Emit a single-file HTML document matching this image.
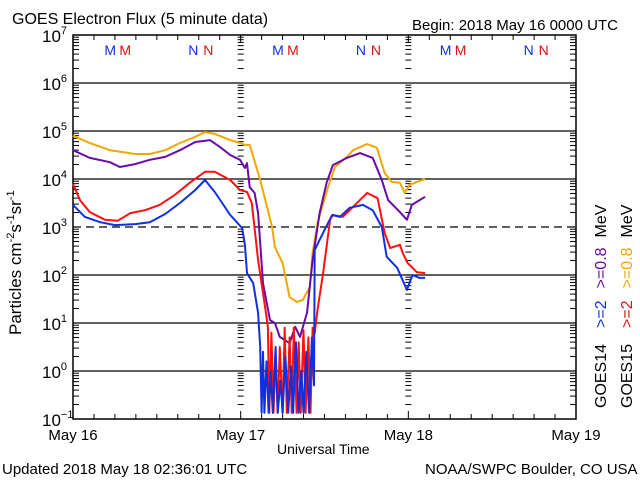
<!DOCTYPE html>
<html><head><meta charset="utf-8"><style>
body{margin:0;background:#fff;width:640px;height:480px;overflow:hidden}
svg{font-family:"Liberation Sans",sans-serif}
</style></head><body>
<svg id="chart" width="640" height="480">
<text x="12" y="24" font-size="16">GOES Electron Flux (5 minute data)</text>
<text x="412" y="30" font-size="15">Begin: 2018 May 16 0000 UTC</text>
<text x="2" y="474" font-size="15">Updated 2018 May 18 02:36:01 UTC</text>
<text x="425" y="474" font-size="15">NOAA/SWPC Boulder, CO USA</text>
<text x="277" y="454" font-size="14">Universal Time</text>
<text transform="translate(21,335) rotate(-90)" font-size="17">Particles cm<tspan font-size="11" dy="-7">-2</tspan><tspan dy="7">s</tspan><tspan font-size="11" dy="-7">-1</tspan><tspan dy="7">sr</tspan><tspan font-size="11" dy="-7">-1</tspan></text>
<text transform="translate(606,408) rotate(-90)" font-size="16"><tspan fill="#000">GOES14</tspan><tspan dx="16" fill="#1030e0">&gt;=2</tspan><tspan dx="12" fill="#6a0aa8">&gt;=0.8</tspan><tspan dx="10" fill="#000">MeV</tspan></text>
<text transform="translate(632,408) rotate(-90)" font-size="16"><tspan fill="#000">GOES15</tspan><tspan dx="16" fill="#e01010">&gt;=2</tspan><tspan dx="12" fill="#f0a800">&gt;=0.8</tspan><tspan dx="10" fill="#000">MeV</tspan></text>
<g id="axes"></g>
<g id="series"></g>
</svg>
<script>
const dayLabels = ["May 16","May 17","May 18","May 19"];
const decadeExps = [-1,0,1,2,3,4,5,6,7];
const mnLetters = [["M","M"],["N","N"]];
// GOES14 >=2 MeV (blue): hours since May 16 00UTC, log10 flux
const blueT = [0,1.7,3.9,6.0,8.9,11.0,13.2,15.3,17.5,18.9,20.3,22.5,24.2,24.6,24.9,25.8,26.5,26.8,27.0,27.2,27.4,27.7,28.0,28.3,28.6,29.0,29.3,29.7,30.0,30.4,30.8,31.2,31.5,31.9,32.3,32.7,33.0,33.4,33.8,34.2,34.5,34.6,35.8,37.1,38.2,39.6,41.5,42.9,44.2,44.9,46.4,47.8,48.6,49.6,50.4];
const blueV = [3.46,3.21,3.10,3.04,3.06,3.10,3.27,3.50,3.77,3.98,3.73,3.25,2.98,2.63,2.04,1.83,1.21,0.5,-0.87,0.4,-0.87,0.2,-0.87,0.0,-0.87,0.5,-0.87,-0.2,-0.87,0.3,-0.87,0.1,-0.87,0.6,-0.87,0.0,-0.87,0.4,-0.87,0.7,-0.3,2.52,2.88,3.25,3.21,3.40,3.46,3.35,3.00,2.38,2.15,1.69,2.00,1.94,1.94];
// GOES15 >=2 MeV (red)
const redT = [0,1.0,2.4,4.6,6.4,8.2,10.3,12.4,14.6,16.7,18.9,20.3,22.5,23.9,24.9,25.6,26.5,27.5,27.9,28.1,28.4,28.7,29.0,29.3,29.6,30.0,30.3,30.6,31.0,31.3,31.6,32.0,32.3,32.6,33.0,33.3,33.7,34.0,34.3,34.6,35.0,35.8,36.8,37.2,38.6,40.1,42.1,43.6,44.6,45.4,46.8,47.2,47.9,49.2,50.4];
const redV = [3.90,3.56,3.31,3.15,3.13,3.29,3.35,3.46,3.67,3.92,4.15,4.15,3.98,3.77,3.73,3.50,2.31,1.33,0.92,-0.87,0.8,-0.87,0.3,-0.87,0.5,-0.87,0.9,-0.87,0.7,-0.87,0.9,-0.87,0.6,-0.87,0.85,-0.87,0.7,-0.87,0.9,0.79,1.27,2.04,3.15,3.25,3.21,3.42,3.71,3.60,2.88,2.56,2.63,2.46,2.25,2.06,2.04];
// GOES14 >=0.8 MeV (purple)
const purT = [0,2.4,5.3,6.7,8.9,11.0,13.2,15.3,17.5,19.6,21.0,22.5,23.9,24.6,24.9,25.3,26.0,26.5,27.2,28.2,28.9,29.6,31.0,31.8,32.5,33.5,34.3,35.3,36.3,37.2,39.2,41.1,42.9,44.2,45.1,46.8,47.8,48.5,50.4];
const purV = [4.60,4.44,4.35,4.25,4.31,4.40,4.46,4.60,4.77,4.81,4.67,4.50,4.40,4.23,4.33,3.83,3.71,3.29,1.83,1.06,1.00,0.71,0.58,0.92,0.71,1.21,2.31,3.29,3.92,4.29,4.44,4.54,4.44,3.98,3.56,3.31,3.15,3.46,3.63];
// GOES15 >=0.8 MeV (orange)
const orgT = [0,2.4,5.3,8.9,11.0,13.2,15.3,17.5,18.9,20.3,22.5,23.9,24.6,25.3,26.8,28.5,28.9,30.0,31.0,32.0,32.9,33.9,34.3,35.0,36.5,37.5,39.2,40.1,42.1,43.5,44.6,45.6,46.8,47.5,48.2,49.2,50.4];
const orgV = [4.90,4.75,4.60,4.52,4.52,4.60,4.75,4.88,4.98,4.94,4.81,4.75,4.71,4.71,3.98,3.00,2.58,2.25,1.54,1.44,1.48,1.75,2.46,3.08,3.83,4.25,4.46,4.60,4.73,4.65,4.13,3.94,3.92,3.71,3.88,3.94,4.00];

const X0=73, X1=576, YT=35, YB=419;
const xs = t => X0 + t*(X1-X0)/72;
const ys = v => YB - (v+1)*(YB-YT)/8;
const NS="http://www.w3.org/2000/svg";
function mk(tag, attrs, parent){const e=document.createElementNS(NS,tag);for(const k in attrs)e.setAttribute(k,attrs[k]);parent.appendChild(e);return e;}
const axes=document.getElementById('axes'), series=document.getElementById('series');

const fr=mk('rect',{x:X0,y:YT,width:X1-X0,height:YB-YT,fill:'none',stroke:'#000','stroke-width':1.5},axes);


decadeExps.forEach(e=>{
  const y=ys(e);
  if(e>-1&&e<7){
    const l=mk('line',{x1:X0,x2:X1,y1:y,y2:y,stroke:'#000','stroke-width':1.3},axes);
    if(e===3){l.setAttribute('stroke-dasharray','8,5');}
    
    
  }
  const t=mk('text',{x:X0-31,y:y+7,'font-size':17},axes);
  
  
  t.innerHTML='10<tspan font-size="11" dy="-8">'+(e<0?'\u2212'+(-e):e)+'</tspan>';
  if(e<7){
    for(let m=2;m<=9;m++){
      const ym=y-Math.log10(m)*(YB-YT)/8;
      [X0, xs(24), xs(48), X1].forEach((xx,i)=>{
        const x1 = i===3? xx-6 : (i===0? xx : xx-3);
        const x2 = i===3? xx : (i===0? xx+6 : xx+3);
        const tk=mk('line',{x1:x1,x2:x2,y1:ym,y2:ym,stroke:'#000','stroke-width':1},axes);
        
        
      });
    }
  }
});
for(let h=0;h<=72;h+=3){
  const x=xs(h);
  const len = h%24===0?8:5;
  const a=mk('line',{x1:x,x2:x,y1:YB,y2:YB-len,stroke:'#000'},axes);
  
  
  const b=mk('line',{x1:x,x2:x,y1:YT,y2:YT+len,stroke:'#000'},axes);
  
  
}
dayLabels.forEach((d,i)=>{
  const t=mk('text',{x:xs(i*24),y:440,'font-size':15,'text-anchor':'middle'},axes);
  
  
  t.textContent=d;
});
for(let i=0;i<6;i++){
  const base=xs(i*12+6.5);
  const letters=mnLetters[i%2];
  const tb=mk('text',{x:base-14,y:55,'font-size':14,fill:'#1030e0'},axes);
  
  
  tb.textContent=letters[0];
  const tr=mk('text',{x:base+1,y:55,'font-size':14,fill:'#e01010'},axes);
  
  
  tr.textContent=letters[1];
}
function line(T,V,color,name){
  const d=T.map((t,i)=>(i?'L':'M')+xs(t).toFixed(1)+','+ys(V[i]).toFixed(1)).join('');
  const p=mk('path',{d:d,fill:'none',stroke:color,'stroke-width':2,'stroke-linejoin':'round'},series);
  
  
}
line(orgT,orgV,'#f0a800','goes15-0p8mev-line');
line(purT,purV,'#6a0aa8','goes14-0p8mev-line');
line(redT,redV,'#ff1010','goes15-2mev-line');
line(blueT,blueV,'#1030e0','goes14-2mev-line');
</script>
</body></html>
